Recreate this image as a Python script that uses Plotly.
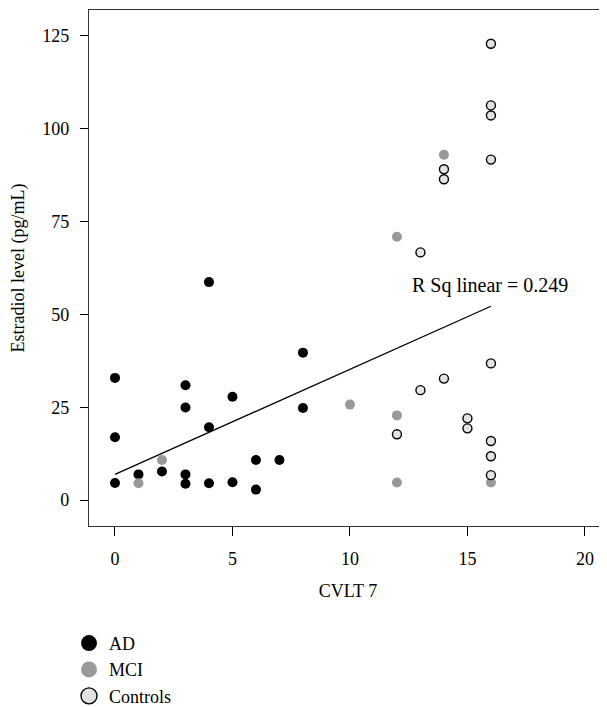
import plotly.graph_objects as go

# ---- data ----
ad_x = [0, 0, 0, 1, 2, 3, 3, 3, 3, 4, 4, 4, 5, 5, 6, 6, 7, 8, 8]
ad_y = [32.9, 16.9, 4.6, 6.9, 7.7, 30.9, 24.9, 6.9, 4.4, 58.7, 19.6, 4.5, 27.8, 4.8, 10.8, 2.8, 10.8, 39.7, 24.8]

mci_x = [1, 2, 10, 12, 12, 12, 14, 16]
mci_y = [4.5, 10.8, 25.7, 70.9, 22.8, 4.7, 93.0, 4.7]

ctl_x = [12, 13, 13, 14, 14, 14, 15, 15, 16, 16, 16, 16, 16, 16, 16, 16]
ctl_y = [17.7, 66.7, 29.6, 89.1, 86.4, 32.7, 22.0, 19.3, 122.9, 106.3, 103.6, 91.7, 36.8, 15.9, 11.8, 6.7]

fit_x = [0, 16]
fit_y = [6.9, 52.2]

x_ticks = [0, 5, 10, 15, 20]
y_ticks = [0, 25, 50, 75, 100, 125]

FONT = "Liberation Serif"
FS = 18

fig = go.Figure()

fig.add_trace(go.Scatter(x=fit_x, y=fit_y, mode="lines",
                         line=dict(color="black", width=1.3),
                         showlegend=False, hoverinfo="skip"))

fig.add_trace(go.Scatter(x=ad_x, y=ad_y, mode="markers", name="AD",
                         marker=dict(color="black", size=10, line=dict(width=0)),
                         showlegend=False))
fig.add_trace(go.Scatter(x=mci_x, y=mci_y, mode="markers", name="MCI",
                         marker=dict(color="#999999", size=10, line=dict(width=0)),
                         showlegend=False))
fig.add_trace(go.Scatter(x=ctl_x, y=ctl_y, mode="markers", name="Controls",
                         marker=dict(color="#e3e3e3", size=9,
                                     line=dict(color="black", width=1.4)),
                         showlegend=False))

# legend-only entries with larger symbols
for name, col, lw in [("AD", "black", 0), ("MCI", "#999999", 0), ("Controls", "#e3e3e3", 1.4)]:
    fig.add_trace(go.Scatter(x=[None], y=[None], mode="markers", name=name,
                             marker=dict(color=col, size=16,
                                         line=dict(color="black", width=lw))))

fig.add_annotation(x=15.94, y=57.8, xref="x", yref="y",
                   text="R Sq linear = 0.249", showarrow=False,
                   xanchor="center", yanchor="middle",
                   font=dict(family=FONT, size=20, color="black"))

fig.update_xaxes(range=[-1.106, 20.94], tickvals=x_ticks,
                 ticks="outside", ticklen=9, tickwidth=1.2, tickcolor="black",
                 showline=True, linecolor="#333333", linewidth=1.3, mirror=True,
                 showgrid=False, zeroline=False,
                 ticklabelstandoff=7,
                 title=dict(text="CVLT 7", standoff=16,
                            font=dict(family=FONT, size=FS, color="black")),
                 tickfont=dict(family=FONT, size=FS, color="black"))
fig.update_yaxes(range=[-7.0, 132.0], tickvals=y_ticks,
                 ticks="outside", ticklen=8, tickwidth=1.2, tickcolor="black",
                 showline=True, linecolor="#333333", linewidth=1.3, mirror=False,
                 showgrid=False, zeroline=False,
                 ticklabelstandoff=7,
                 title=dict(text="Estradiol level (pg/mL)", standoff=13,
                            font=dict(family=FONT, size=FS, color="black")),
                 tickfont=dict(family=FONT, size=FS, color="black"))

# the page adds an 8px body margin, so the figure is 8px smaller and shifted
fig.update_layout(
    width=599, height=699,
    margin=dict(l=81, r=0, t=2, b=181, autoexpand=False),
    plot_bgcolor="white", paper_bgcolor="white",
    font=dict(family=FONT, size=FS, color="black"),
    legend=dict(x=-0.0386, xref="paper", y=-0.1916, yanchor="top", xanchor="left",
                font=dict(family=FONT, size=FS, color="black"),
                tracegroupgap=0, itemwidth=30, bgcolor="rgba(0,0,0,0)"),
)

fig.write_html("out.html")
